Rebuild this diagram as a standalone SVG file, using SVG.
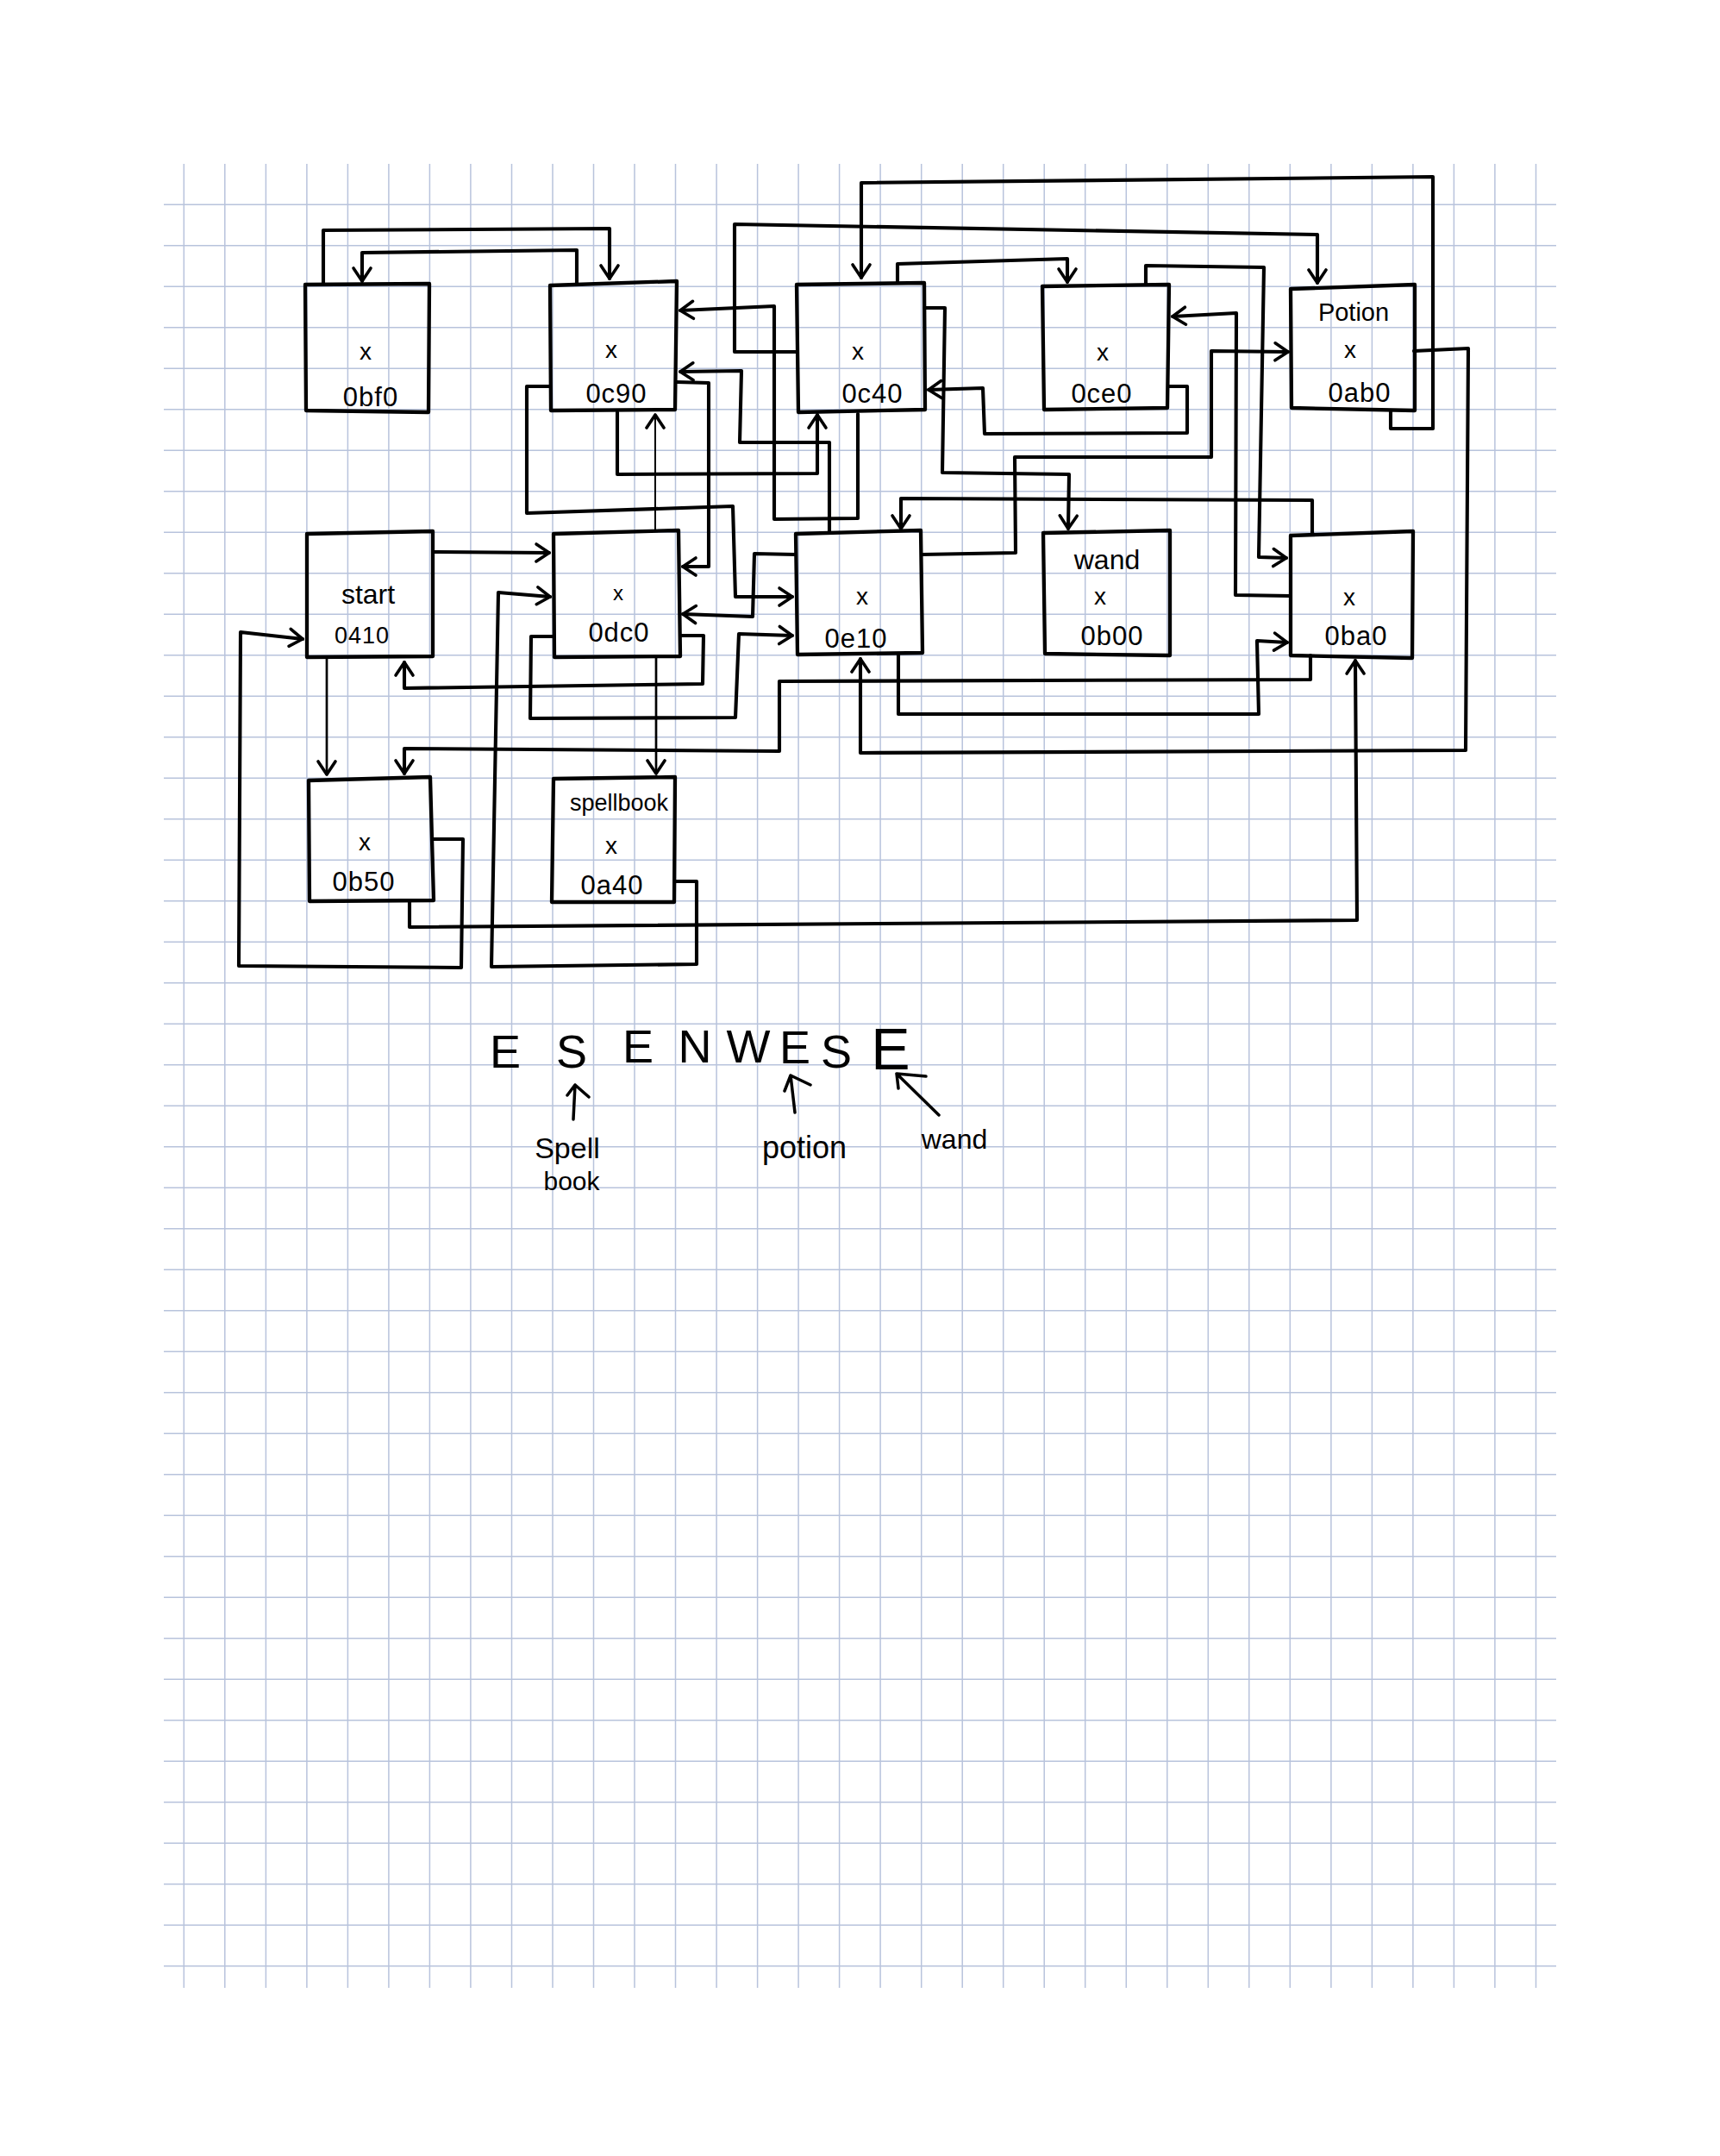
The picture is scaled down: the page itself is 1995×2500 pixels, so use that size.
<svg xmlns="http://www.w3.org/2000/svg" width="1995" height="2500" viewBox="0 0 1995 2500">
<style>
.grid{stroke:#b8c3dc;stroke-width:1.5;fill:none}
.box{fill:none;stroke:#000;stroke-width:4.3;stroke-linejoin:round}
.c{fill:none;stroke:#000;stroke-width:4.1;stroke-linejoin:round;stroke-linecap:round}
.cm{stroke-width:2.7}
.ct{stroke-width:2}
text{font-family:"Liberation Sans",Arial,sans-serif;fill:#000;text-anchor:middle}
.x{font-size:28px}
.ad{font-size:31px;letter-spacing:1px}
.nm{font-size:29px}
.big{font-size:54px}
.ann{font-size:34px}
.hand{fill:none;stroke:#000;stroke-width:3.5;stroke-linecap:round;stroke-linejoin:round}
</style>
<defs>
<marker id="ah" markerUnits="userSpaceOnUse" markerWidth="40" markerHeight="40" viewBox="-20 -20 40 40" refX="0" refY="0" orient="auto">
<path d="M-15,-10 L0,0 L-15,10" fill="none" stroke="#000" stroke-width="3.6" stroke-linecap="round" stroke-linejoin="round"/>
</marker>
</defs>
<rect width="1995" height="2500" fill="#fff"/>
<g id="grid">
<path class="grid" d="M213.3,190V2305M260.8,190V2305M308.4,190V2305M355.9,190V2305M403.4,190V2305M450.9,190V2305M498.4,190V2305M545.9,190V2305M593.5,190V2305M641,190V2305M688.5,190V2305M736,190V2305M783.5,190V2305M831.1,190V2305M878.6,190V2305M926.1,190V2305M973.6,190V2305M1021.1,190V2305M1068.7,190V2305M1116.2,190V2305M1163.7,190V2305M1211.2,190V2305M1258.7,190V2305M1306.3,190V2305M1353.8,190V2305M1401.3,190V2305M1448.8,190V2305M1496.3,190V2305M1543.9,190V2305M1591.4,190V2305M1638.9,190V2305M1686.4,190V2305M1733.9,190V2305M1781.5,190V2305"/>
<path class="grid" d="M190,237.3H1805M190,284.8H1805M190,332.3H1805M190,379.8H1805M190,427.3H1805M190,474.8H1805M190,522.3H1805M190,569.8H1805M190,617.3H1805M190,664.8H1805M190,712.3H1805M190,759.8H1805M190,807.3H1805M190,854.8H1805M190,902.3H1805M190,949.8H1805M190,997.3H1805M190,1044.8H1805M190,1092.3H1805M190,1139.8H1805M190,1187.3H1805M190,1234.8H1805M190,1282.3H1805M190,1329.8H1805M190,1377.3H1805M190,1424.8H1805M190,1472.3H1805M190,1519.8H1805M190,1567.3H1805M190,1614.8H1805M190,1662.3H1805M190,1709.8H1805M190,1757.3H1805M190,1804.8H1805M190,1852.3H1805M190,1899.8H1805M190,1947.3H1805M190,1994.8H1805M190,2042.3H1805M190,2089.8H1805M190,2137.3H1805M190,2184.8H1805M190,2232.3H1805M190,2279.8H1805"/>
</g>
<g id="connectors">
<path class="c" marker-end="url(#ah)" d="M375,330 L375,267 L707,265 L707,323"/>
<path class="c" marker-end="url(#ah)" d="M669,328 L669,290 L420,293 L420,326"/>
<path class="c" marker-end="url(#ah)" d="M1613,477 L1613,497 L1662,497 L1662,205 L999,212 L999,322"/>
<path class="c" marker-end="url(#ah)" d="M923,408 L852,408 L852,260 L1528,272 L1528,328"/>
<path class="c" marker-end="url(#ah)" d="M995,480 L995,601 L898,602 L898,355 L789,360"/>
<path class="c" marker-end="url(#ah)" d="M962,617 L962,513 L858,513 L860,430 L789,431"/>
<path class="c" marker-end="url(#ah)" d="M716,478 L716,550 L948,549 L948,481"/>
<path class="c" marker-end="url(#ah)" d="M785,443 L822,444 L822,657 L792,657"/>
<path class="c" marker-end="url(#ah)" d="M638,448 L611,448 L611,595 L850,587 L853,692 L919,692"/>
<path class="c" marker-end="url(#ah)" d="M923,643 L875,642 L873,715 L792,712"/>
<path class="c" marker-end="url(#ah)" d="M642,738 L616,738 L615,833 L853,832 L857,735 L919,737"/>
<path class="c" marker-end="url(#ah)" d="M789,737 L816,737 L815,793 L469,798 L469,768"/>
<path class="c" marker-end="url(#ah)" d="M1520,760 L1520,788 L904,790 L904,871 L469,868 L469,897"/>
<path class="c cm" marker-end="url(#ah)" d="M379,762 L379,898"/>
<path class="c" marker-end="url(#ah)" d="M502,640 L637,641"/>
<path class="c" marker-end="url(#ah)" d="M784,1022 L808,1022 L808,1118 L570,1121 L578,687 L638,692"/>
<path class="c ct" marker-end="url(#ah)" d="M760,615 L760,481"/>
<path class="c cm" marker-end="url(#ah)" d="M761,762 L761,897"/>
<path class="c" marker-end="url(#ah)" d="M1041,328 L1041,306 L1238,300 L1238,327"/>
<path class="c" marker-end="url(#ah)" d="M1329,330 L1329,308 L1466,310 L1460,646 L1492,647"/>
<path class="c" marker-end="url(#ah)" d="M1497,691 L1433,690 L1434,363 L1360,367"/>
<path class="c" marker-end="url(#ah)" d="M1069,643 L1178,641 L1177,530 L1405,530 L1405,407 L1494,408"/>
<path class="c" marker-end="url(#ah)" d="M1356,448 L1377,448 L1377,502 L1142,503 L1140,450 L1077,452"/>
<path class="c" marker-end="url(#ah)" d="M1072,357 L1096,357 L1093,548 L1240,550 L1239,613"/>
<path class="c" marker-end="url(#ah)" d="M1522,620 L1522,580 L1045,578 L1045,613"/>
<path class="c" marker-end="url(#ah)" d="M1042,759 L1042,828 L1460,828 L1458,743 L1493,745"/>
<path class="c" marker-end="url(#ah)" d="M1640,407 L1703,404 L1700,870 L998,873 L998,764"/>
<path class="c" marker-end="url(#ah)" d="M475,1046 L475,1075 L1574,1067 L1572,766"/>
<path class="c" marker-end="url(#ah)" d="M502,973 L537,973 L535,1122 L277,1120 L279,733 L351,741"/>
</g>
<g id="node-0bf0">
<path class="box" d="M354,330 L498,329 L497,478 L355,476 Z"/>
<text class="x" x="424" y="417">x</text>
<text class="ad" x="430" y="471">0bf0</text>
</g>
<g id="node-0c90">
<path class="box" d="M638,331 L785,326 L783,475 L639,476 Z"/>
<text class="x" x="709" y="415">x</text>
<text class="ad" x="715" y="467">0c90</text>
</g>
<g id="node-0c40">
<path class="box" d="M924,330 L1072,328 L1073,475 L926,478 Z"/>
<text class="x" x="995" y="417">x</text>
<text class="ad" x="1012" y="467">0c40</text>
</g>
<g id="node-0ce0">
<path class="box" d="M1209,332 L1356,330 L1354,473 L1211,475 Z"/>
<text class="x" x="1279" y="418">x</text>
<text class="ad" x="1278" y="467">0ce0</text>
</g>
<g id="node-0ab0">
<path class="box" d="M1497,335 L1641,330 L1641,476 L1498,473 Z"/>
<text class="nm" x="1570" y="372">Potion</text>
<text class="x" x="1566" y="415">x</text>
<text class="ad" x="1577" y="466">0ab0</text>
</g>
<g id="node-0410">
<path class="box" d="M356,619 L502,616 L502,761 L356,762 Z"/>
<text class="nm" x="427" y="700" style="font-size:32px">start</text>
<text class="ad" x="420" y="746" style="font-size:27px">0410</text>
</g>
<g id="node-0dc0">
<path class="box" d="M642,619 L787,615 L789,761 L643,762 Z"/>
<text class="x" x="717" y="696" style="font-size:24px">x</text>
<text class="ad" x="718" y="744">0dc0</text>
</g>
<g id="node-0e10">
<path class="box" d="M923,619 L1068,615 L1070,757 L925,759 Z"/>
<text class="x" x="1000" y="701">x</text>
<text class="ad" x="993" y="751">0e10</text>
</g>
<g id="node-0b00">
<path class="box" d="M1210,618 L1357,615 L1357,760 L1212,758 Z"/>
<text class="nm" x="1284" y="660" style="font-size:32px">wand</text>
<text class="x" x="1276" y="701">x</text>
<text class="ad" x="1290" y="748">0b00</text>
</g>
<g id="node-0ba0">
<path class="box" d="M1497,621 L1639,616 L1638,763 L1497,760 Z"/>
<text class="x" x="1565" y="702">x</text>
<text class="ad" x="1573" y="748">0ba0</text>
</g>
<g id="node-0b50">
<path class="box" d="M358,905 L499,901 L503,1044 L359,1045 Z"/>
<text class="x" x="423" y="986">x</text>
<text class="ad" x="422" y="1033">0b50</text>
</g>
<g id="node-0a40">
<path class="box" d="M642,903 L783,901 L782,1046 L640,1046 Z"/>
<text class="nm" x="718" y="940" style="font-size:27px">spellbook</text>
<text class="x" x="709" y="990">x</text>
<text class="ad" x="710" y="1037">0a40</text>
</g>
<g id="annotation">
<text class="big" x="586" y="1238">E</text>
<text class="big" x="663" y="1238">S</text>
<text class="big" x="740" y="1232">E</text>
<text class="big" x="806" y="1232">N</text>
<text class="big" x="868" y="1232">W</text>
<text class="big" x="922" y="1233">E</text>
<text class="big" x="970" y="1238">S</text>
<text class="big" x="1033" y="1240" style="font-size:68px">E</text>
<path class="hand" d="M665,1298 L667,1258 M658,1270 L667,1258 L683,1272"/>
<path class="hand" d="M922,1290 L917,1247 M910,1265 L917,1247 L940,1258"/>
<path class="hand" d="M1089,1293 L1040,1245 M1042,1262 L1040,1245 L1074,1248"/>
<text class="ann" x="658" y="1343">Spell</text>
<text class="ann" x="663" y="1380" style="font-size:30px">book</text>
<text class="ann" x="933" y="1343" style="font-size:36px">potion</text>
<text class="ann" x="1107" y="1332" style="font-size:32px">wand</text>
</g>
</svg>
